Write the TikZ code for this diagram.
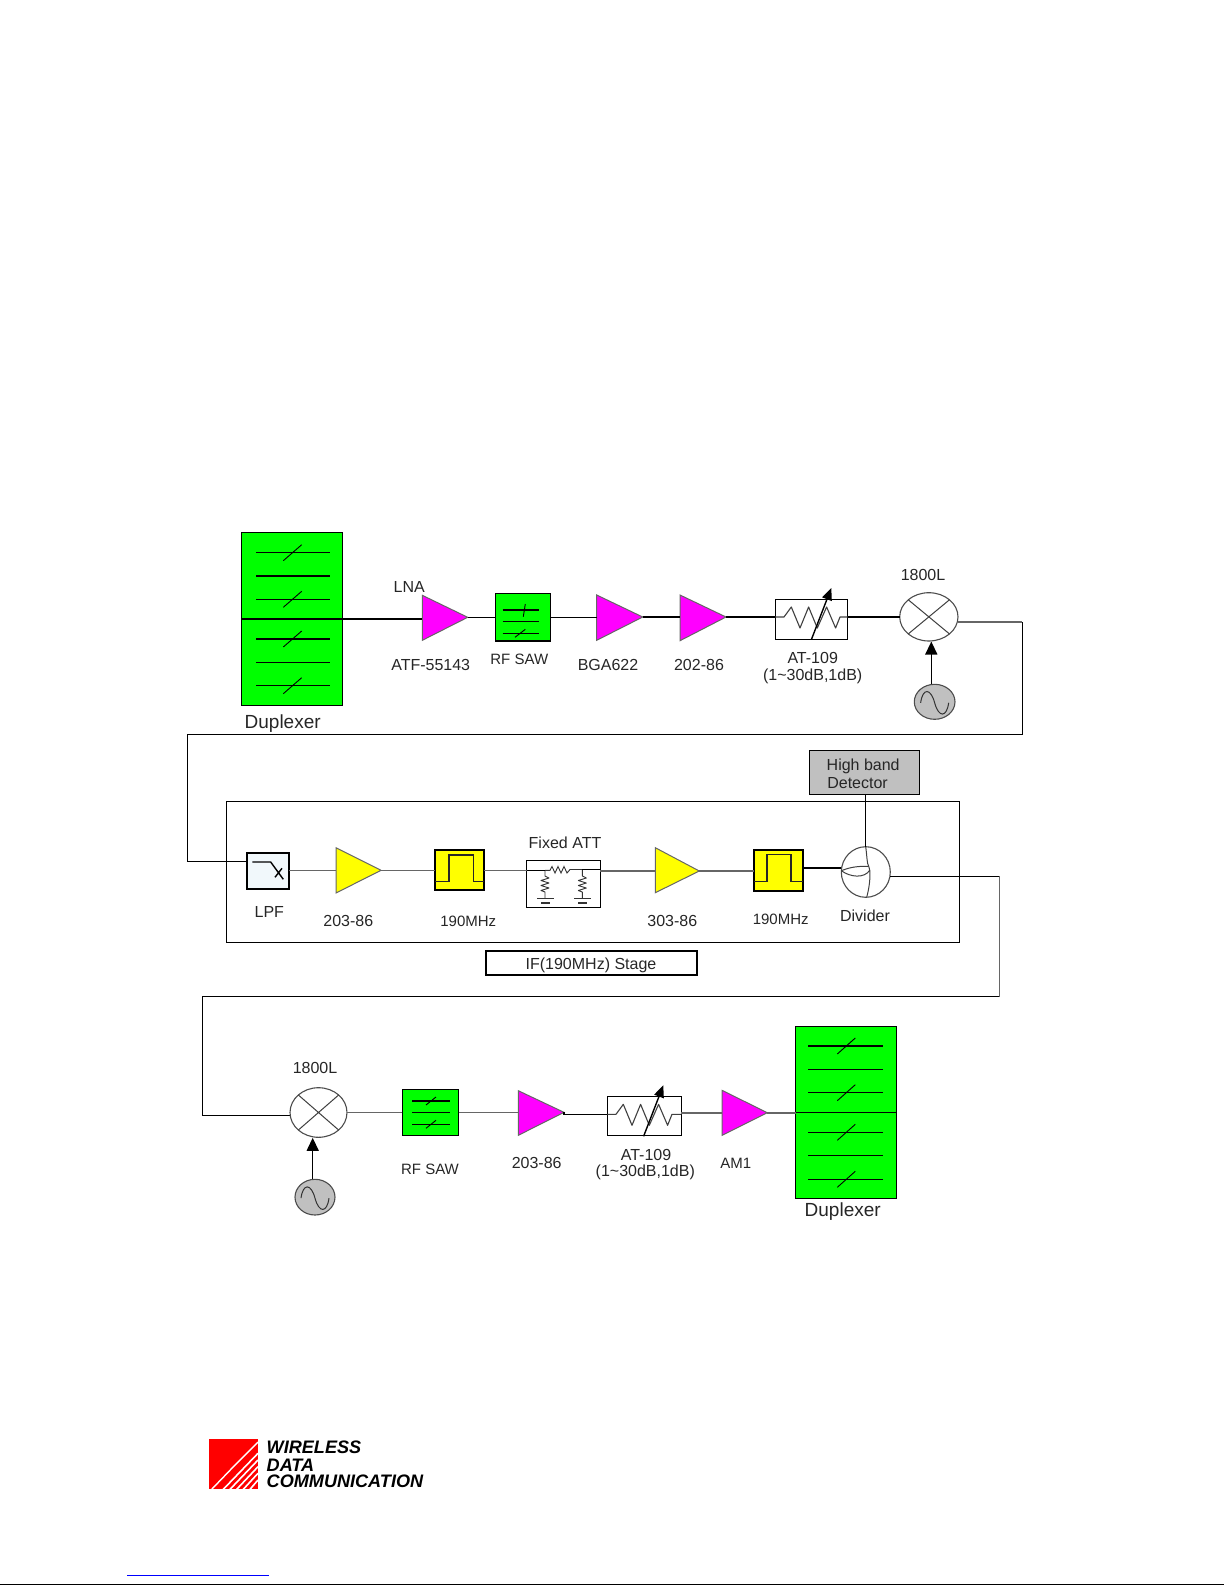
\documentclass[tikz,border=0pt]{standalone}
\usepackage{fontspec}
\setmainfont{Liberation Sans}
\usetikzlibrary{shapes.geometric,arrows.meta,calc}
\definecolor{pgray}{HTML}{C0C0C0}
\definecolor{lpfc}{HTML}{F1F8FB}
\definecolor{mg}{HTML}{FF00FF}
\definecolor{yl}{HTML}{FFFF00}
\definecolor{gr}{HTML}{00FF00}
\definecolor{rd}{HTML}{FF0000}
\definecolor{bl}{HTML}{0000FF}
\tikzset{
  x=0.5pt,y=-0.5pt,
  wire/.style={black,line width=0.7pt},
  gwire/.style={black!60,line width=0.8pt},
  boxb/.style={draw=black,line width=0.7pt,inner sep=0pt,outer sep=0pt},
  dup/.style={boxb,fill=gr},
  filt/.style={boxb,line width=0.9pt,fill=yl},
  ell/.style={ellipse,draw=black!70,line width=0.55pt,inner sep=0pt,outer sep=0pt,fill=white},
  osc/.style={ell,fill=pgray},
  thin/.style={black,line width=0.45pt},
  lab/.style={font=\fontsize{8pt}{9pt}\selectfont,inner sep=0pt,outer sep=0pt,text=black!85},
  labn/.style={font=\fontsize{7.5pt}{9pt}\selectfont,inner sep=0pt,outer sep=0pt,text=black!85},
  dlab/.style={font=\fontsize{9.5pt}{10pt}\selectfont,inner sep=0pt,outer sep=0pt,text=black!85},
  logot/.style={font=\fontsize{9.05pt}{10pt}\selectfont\bfseries\itshape,inner sep=0pt,outer sep=0pt,anchor=west},
  arr/.style={wire,-{Triangle[length=6.5pt,width=6pt]}},
  amparr/.style={wire,-{Triangle[length=6pt,width=5pt]}},
}
% name, x1,y1,x2,y2, style
\newcommand\bx[6]{%
  \pgfmathsetmacro\tmpW{abs(#4-#2)*0.5}\pgfmathsetmacro\tmpH{abs(#5-#3)*0.5}%
  \pgfmathsetmacro\tmpX{(#2+#4)/2}\pgfmathsetmacro\tmpY{(#3+#5)/2}%
  \node[#6,minimum width=\tmpW pt,minimum height=\tmpH pt] (#1) at (\tmpX,\tmpY) {};}
% name, left x, top y, bottom y, tip x, tip y, colour
\newcommand\trg[7]{%
  \coordinate (#1-a) at (#2,#3);\coordinate (#1-b) at (#2,#4);\coordinate (#1-t) at (#5,#6);
  \draw[draw=black!60,line width=0.5pt,fill=#7] (#1-a)--(#1-t)--(#1-b)--cycle;}
% x1,x2,y, slash x1,slash x2, slash dy
\newcommand\rline[6]{\draw[wire] (#1,#3)--(#2,#3);
  \ifx&#4&\else\draw[thin] (#4,#3+#6)--(#5,#3-#6);\fi}
% name, x1, x2, y-top, y-bot, centre y, scale
\newcommand\varatt[7]{%
  \bx{#1}{#2}{#4}{#3}{#5}{boxb,fill=white}
  \begin{scope}[shift={(#2,#6)}]
    \coordinate (#1-l) at (0,0);\coordinate (#1-r) at (#7,0);
    \draw[black!75,line width=0.55pt,line join=round] (#1-l)--(8.7,0)--(16,-10)--(24.7,11)--(33.3,-10)--(42,11)--(51.3,-10)--(60.3,11)--(64.7,0)--(#1-r);
    \draw[amparr] (36.3,22)--(56,-29);
  \end{scope}}
\newcommand\mixr[1]{\draw[black!75,line width=0.5pt] (#1.north west)--(#1.south east) (#1.south west)--(#1.north east);}
\newcommand\sine[1]{\draw[black!80,line width=0.5pt] ($(#1)+(-14,1)$) .. controls ($(#1)+(-12,-14)$) and ($(#1)+(-4,-14)$) .. ($(#1)+(0,1)$) .. controls ($(#1)+(4,16)$) and ($(#1)+(12,16)$) .. ($(#1)+(14,1)$);}
\newcommand\pulse[7]{\draw[black!85,line width=0.75pt] (#1,#5)--(#2,#5)--(#2,#6)--(#3,#6)--(#3,#5)--(#4,#5);}
\newcommand\shunt[2]{\draw[black!80,line width=0.45pt,line join=round] (#1,#2)--(#1,876)--(#1+4,878)--(#1-4,880.5)--(#1+4,883)--(#1-4,885.5)--(#1+4,888)--(#1-4,890.5)--(#1,892)--(#1,898.3);
  \draw[black!80,line width=0.55pt] (#1-8,898.3)--(#1+9,898.3) (#1-4,903)--(#1+5,903);}
\begin{document}
\begin{tikzpicture}
\useasboundingbox (0,0) rectangle (1225,1585);
% --- top row ---
\bx{dupa}{241.3}{532.7}{342.7}{705.3}{dup}
\draw[wire] (dupa.west)--(dupa.east);
\rline{256}{330}{552.7}{283.3}{301.7}{8}
\rline{256}{330}{576}{}{}{0}
\rline{256}{330}{599.3}{283.3}{301.7}{8}
\rline{256}{330}{639}{283.3}{301.7}{8}
\rline{256}{330}{662.3}{}{}{0}
\rline{256}{330}{685.7}{283.3}{301.7}{8}
\trg{lna}{422.3}{595.3}{640.3}{467.7}{617.3}{mg}
\bx{sawa}{495.7}{593.3}{550.7}{641}{dup}
\rline{502.7}{539.3}{610}{}{}{0}
\draw[thin] (523.3,616.7)--(525.3,604);
\rline{502.7}{539.3}{621.7}{}{}{0}
\rline{502.7}{539.3}{633.3}{515}{525.3}{4}
\trg{bga}{596.7}{595}{640.3}{642.7}{617}{mg}
\trg{ampb}{680}{595}{640.7}{726}{617}{mg}
\varatt{atta}{775.3}{847.7}{599.3}{639.3}{617}{72.4}
\bx{mixa}{899.7}{592.7}{958}{641}{ell}
\mixr{mixa}
\bx{osca}{914.3}{684.3}{955}{719.3}{osc}
\sine{osca}
\coordinate (oscaT) at (931.3,684.3);\coordinate (mixaB) at (931.3,641.5);
\draw[arr] (oscaT)--(mixaB);
\draw[wire] (dupa.east)--(dupa.east -| lna-a);
\draw[wire] (lna-t)--(lna-t -| sawa.west);
\draw[wire] (lna-t -| sawa.east)--(lna-t -| bga-a);
\draw[wire] (bga-t)--(bga-t -| ampb-a);
\draw[wire] (ampb-t)--(atta-l);
\draw[wire] (atta-r)--(atta-r -| mixa.west);
\coordinate (w1a) at (958,622);\coordinate (w1b) at (1022.3,622);\coordinate (w1c) at (1022.3,734.5);
\coordinate (w1d) at (187.3,734.5);\coordinate (w1e) at (187.3,861.3);\coordinate (lpfin) at (247.3,861.3);
\draw[gwire] (w1a)--(w1b);
\draw[wire] (w1b)--(w1c)--(w1d)--(w1e)--(lpfin);
% --- IF stage ---
\bx{ifbox}{226.3}{801.3}{959.3}{942.3}{boxb}
\bx{lpf}{247.3}{852.7}{289}{888.7}{boxb,line width=0.9pt,fill=lpfc}
\draw[black,line width=0.7pt] (252.3,862)--(270.7,862)--(283.3,879.3) (275,877.3)--(282,868.3);
\trg{ifa}{336}{847.7}{893}{381}{870.3}{yl}
\bx{flta}{435}{850.3}{483.7}{890.3}{filt}
\pulse{435}{449}{473.3}{483.7}{881.7}{855}{}
\bx{fatt}{526.7}{860.7}{600.3}{907.3}{boxb}
\draw[black!80,line width=0.45pt] (545,870.3)--(550,870.3)--(552,866.5)--(555,873)--(558,866.5)--(561,873)--(564,866.5)--(567,873)--(570,869.5)--(582.3,869.5);
\shunt{545}{870.3}
\shunt{582.3}{869.5}
\trg{ifb}{655.3}{847.7}{892.7}{699.3}{871}{yl}
\bx{fltb}{754}{850.3}{802.7}{891}{filt}
\pulse{754}{767}{791}{802.7}{881.7}{854.7}{}
\bx{divd}{841.3}{846.7}{890.3}{897.3}{ell}
\draw[black!75,line width=0.5pt] (865.7,846.7) .. controls (867,856) and (867,864) .. (868.7,866.3) .. controls (871,872) and (870,885) .. (866.7,897.3);
\draw[black!75,line width=0.5pt] (841.3,870.7) .. controls (848,868) and (855,866) .. (868.7,866.3);
\draw[black!75,line width=0.5pt] (841.3,870.7) .. controls (850,877) and (864,879) .. (870,870);
\bx{hbd}{809.3}{750.3}{919.7}{794.3}{boxb,fill=pgray}
\coordinate (hbdB) at (865.7,794.3);\coordinate (divT) at (865.7,846.7);
\draw[wire] (hbdB)--(divT);
\draw[gwire] (lpf.east |- ifa-t)--(ifa-t -| ifa-a);
\draw[gwire] (ifa-t)--(ifa-t -| flta.west);
\draw[gwire] (ifa-t -| flta.east)--(ifa-t -| fatt.west);
\draw[wire] (ifa-t -| fatt.west)--(545,870.3);
\draw[gwire] (fatt.east |- ifb-t)--(ifb-t -| ifb-a);
\draw[wire] (582.3,869.5)--(fatt.east |- 0,869.5);
\draw[gwire] (ifb-t)--(ifb-t -| fltb.west);
\coordinate (w3a) at (802,868);\coordinate (w3b) at (841.3,868);
\draw[wire] (w3a)--(w3b);
\coordinate (w4a) at (890.3,876.3);\coordinate (w4b) at (999.3,876.3);\coordinate (w4c) at (999.3,996.7);
\coordinate (w4d) at (202.3,996.7);\coordinate (w4e) at (202.3,1115.3);\coordinate (w4f) at (290,1115.3);
\draw[wire] (w4a)--(w4b);
\draw[gwire] (w4b)--(w4c);
\draw[wire] (w4c)--(w4d)--(w4e)--(w4f);
\bx{stage}{486}{951}{697.3}{974.7}{boxb,line width=0.9pt}
% --- bottom row ---
\bx{mixb}{290}{1087.7}{347}{1137.3}{ell}
\mixr{mixb}
\bx{sawb}{402.3}{1089.3}{458.7}{1135.7}{dup}
\rline{412.3}{450}{1101}{426}{436}{4}
\rline{412.3}{450}{1112.3}{}{}{0}
\rline{412.3}{450}{1124.3}{426}{436}{4}
\trg{tx}{518.3}{1090.7}{1135.3}{564}{1112.3}{mg}
\varatt{attb}{607.3}{681.3}{1096.3}{1135.3}{1114.3}{74}
\trg{am}{722}{1090.3}{1135.3}{767.3}{1112.7}{mg}
\bx{dupb}{795.7}{1026.3}{896.3}{1198.3}{dup}
\draw[wire] (dupb.west)--(dupb.east);
\rline{808.3}{882.7}{1046}{837.3}{855.3}{8}
\rline{808.3}{882.7}{1069.3}{}{}{0}
\rline{808.3}{882.7}{1092.7}{837.3}{855.3}{8}
\rline{808.3}{882.7}{1132.3}{837.3}{855.3}{8}
\rline{808.3}{882.7}{1155.7}{}{}{0}
\rline{808.3}{882.7}{1179.3}{837.3}{855.3}{8}
\bx{oscb}{295}{1179.3}{335}{1215}{osc}
\sine{oscb}
\coordinate (oscbT) at (312.7,1179.3);\coordinate (mixbB) at (312.7,1137.8);
\draw[arr] (oscbT)--(mixbB);
\draw[gwire] (mixb.east |- sawb.west)--(sawb.west);
\draw[gwire] (sawb.east)--(sawb.east -| tx-a);
\draw[wire] (tx-t)--(tx-t |- attb-l)--(attb-l);
\draw[gwire] (attb.east |- am-t)--(am-t -| am-a);
\draw[gwire] (am-t)--(am-t -| dupb.west);
% --- labels ---
\node[lab] (t1) at (409.3,586.7) {LNA};
\node[lab] (t2) at (430.7,665.3) {ATF-55143};
\node[labn] (t3) at (519.3,659.3) {RF SAW};
\node[lab] (t4) at (608,665) {BGA622};
\node[lab] (t5) at (699,665) {202-86};
\node[lab] (t6) at (812.7,657.7) {AT-109};
\node[lab] (t7) at (812.7,676) {(1\textasciitilde 30dB,1dB)};
\node[lab] (t8) at (923,575) {1800L};
\node[dlab] (t9) at (282.7,723.5) {Duplexer};
\node[lab] (t10) at (269.3,911.7) {LPF};
\node[lab] (t11) at (348.3,921) {203-86};
\node[labn] (t12) at (468.3,921.3) {190MHz};
\node[lab] (t13) at (565,842.7) {Fixed ATT};
\node[lab] (t14) at (672.3,921) {303-86};
\node[labn] (t15) at (780.7,919.3) {190MHz};
\node[lab] (t16) at (865,915.7) {Divider};
\node[lab,anchor=west] (t17) at (826.7,766) {High band};
\node[lab,anchor=west] (t18) at (827.3,782.7) {Detector};
\node[lab] (t19) at (591,965) {IF(190MHz) Stage};
\node[lab] (t20) at (315,1067.7) {1800L};
\node[labn] (t21) at (430,1169) {RF SAW};
\node[lab] (t22) at (536.7,1163) {203-86};
\node[lab] (t23) at (646,1154.7) {AT-109};
\node[lab] (t24) at (645.3,1172) {(1\textasciitilde 30dB,1dB)};
\node[labn] (t25) at (735.7,1163.3) {AM1};
\node[dlab] (t26) at (842.7,1211.5) {Duplexer};
% --- logo ---
\bx{logo}{208.7}{1439}{258}{1489.3}{fill=rd,inner sep=0pt,outer sep=0pt}
\begin{scope}
  \clip (208.7,1439) rectangle (258,1489.3);
  \draw[white,line width=0.7pt] (211.7,1489.3)--(236,1464)--(258,1442);
  \foreach \bxa/\bya in {223.3/1453.3,230/1460,236.7/1466.7,243.3/1473.3,250/1480}
    \draw[white,line width=0.8pt] (\bxa,1489.3)--(258,\bya);
\end{scope}
\node[logot] (l1) at (266.7,1447.7) {WIRELESS};
\node[logot] (l2) at (266.7,1465) {DATA};
\node[logot] (l3) at (266.7,1481.7) {COMMUNICATION};
% --- footer rules ---
\coordinate (fa) at (127,1575.5);\coordinate (fb) at (269,1575.5);
\draw[bl,line width=0.6pt] (fa)--(fb);
\coordinate (fc) at (0,1584.3);\coordinate (fd) at (1224,1584.3);
\draw[black,line width=0.7pt] (fc)--(fd);
\end{tikzpicture}
\end{document}
